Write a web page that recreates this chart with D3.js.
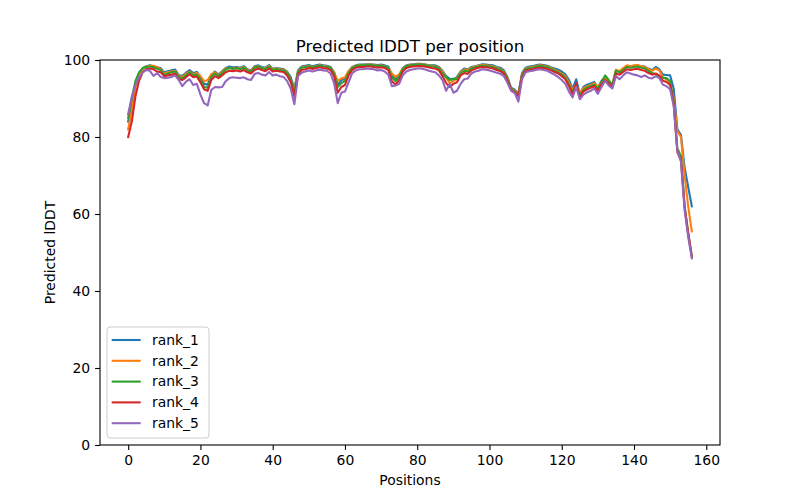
<!DOCTYPE html>
<html lang="en">
<head>
<meta charset="UTF-8">
<title>Predicted lDDT per position</title>
<style>
  body { margin: 0; background: #fff; }
  svg text { font-family: "DejaVu Sans", sans-serif; fill: #000; }
</style>
</head>
<body>
<div id="chart"></div>
<script src="https://cdnjs.cloudflare.com/ajax/libs/d3/7.8.5/d3.min.js"></script>
<script>
// values, positions 0..156
const rank_1 = [
  84, 89, 94, 96.5, 97.8, 98.4, 98.6, 98.4, 98.1, 97.9,
  96.8, 97.1, 97.3, 97.5, 96.0, 95.9, 96.7, 97.4, 96.6, 96.9,
  95.6, 93.8, 93.6, 96.0, 97.0, 96.2, 97.1, 97.9, 98.3, 98.1,
  98.2, 98.0, 98.4, 97.6, 97.3, 98.4, 98.6, 98.2, 98.0, 98.7,
  97.7, 97.9, 97.8, 97.6, 97.0, 95.5, 92.5, 97.3, 98.3, 98.5,
  98.7, 98.4, 98.6, 98.8, 98.6, 98.5, 98.2, 96.8, 93.5, 94.8,
  95.0, 97.0, 98.2, 98.6, 98.8, 98.8, 98.9, 98.9, 98.8, 98.7,
  98.8, 98.6, 98.3, 96.0, 95.1, 96.0, 97.9, 98.6, 98.8, 98.9,
  99.0, 99.0, 98.9, 98.7, 98.6, 98.6, 98.2, 97.2, 95.8, 95.1,
  94.8, 95.6, 97.0, 97.8, 97.5, 98.2, 98.4, 98.6, 98.9, 98.8,
  98.7, 98.6, 98.2, 98.0, 97.3, 95.5, 92.8, 92.3, 91.2, 96.6,
  98.0, 98.3, 98.4, 98.7, 98.8, 98.7, 98.5, 98.1, 97.8, 97.5,
  97.0, 96.3, 94.8, 92.5, 95.0, 91.2, 93.0, 93.6, 93.9, 94.3,
  92.8, 94.6, 95.5, 94.6, 93.4, 97.3, 97.0, 97.6, 98.4, 98.2,
  98.5, 98.6, 98.3, 98.3, 97.7, 97.4, 98.2, 97.6, 96.2, 96.1,
  96.0, 92.5, 82.0, 80.5, 72.0, 67.0, 62.0
];
const rank_2 = [
  82, 87, 93, 96.3, 97.6, 98.3, 98.5, 98.5, 98.2, 97.6,
  96.5, 96.8, 97.0, 97.2, 95.8, 95.6, 96.4, 97.0, 96.3, 96.6,
  95.8, 94.5, 94.8, 96.3, 96.8, 96.0, 97.0, 97.7, 98.0, 97.8,
  98.0, 97.8, 98.2, 97.4, 97.2, 98.2, 98.4, 98.0, 97.8, 98.5,
  97.6, 97.8, 97.6, 97.5, 96.8, 95.0, 92.0, 97.0, 98.1, 98.3,
  98.5, 98.2, 98.4, 98.6, 98.4, 98.3, 98.0, 96.8, 94.6, 95.2,
  95.5, 97.2, 98.0, 98.5, 98.7, 98.7, 98.8, 98.8, 98.7, 98.5,
  98.6, 98.4, 98.0, 96.5, 95.6, 96.3, 97.8, 98.5, 98.7, 98.8,
  98.9, 98.9, 98.8, 98.6, 98.4, 98.4, 98.0, 97.0, 95.5, 94.0,
  94.5, 95.2, 96.8, 97.5, 97.3, 98.0, 98.3, 98.5, 98.7, 98.6,
  98.5, 98.3, 98.0, 97.7, 97.0, 95.2, 92.5, 92.0, 91.0, 96.3,
  97.8, 98.1, 98.2, 98.5, 98.6, 98.5, 98.3, 97.9, 97.5, 97.0,
  96.5, 95.8, 94.0, 92.3, 93.5, 91.5, 92.6, 93.2, 93.5, 94.0,
  93.0, 94.3, 95.4, 94.4, 93.6, 97.5, 97.1, 97.9, 98.6, 98.4,
  98.6, 98.7, 98.4, 98.2, 97.6, 97.2, 97.8, 97.3, 95.5, 95.0,
  94.0, 90.0, 81.5, 80.0, 70.0, 62.0, 55.5
];
const rank_3 = [
  85, 90, 94.5, 96.8, 97.9, 98.2, 98.3, 98.1, 97.8, 97.4,
  96.2, 96.5, 96.8, 97.0, 95.5, 95.2, 96.0, 96.8, 96.0, 96.2,
  95.0, 93.0, 92.8, 95.6, 96.5, 95.8, 96.6, 97.5, 97.9, 97.7,
  97.9, 97.6, 98.0, 97.2, 97.0, 98.0, 98.3, 97.9, 97.6, 98.3,
  97.4, 97.6, 97.4, 97.3, 96.6, 95.0, 91.5, 96.8, 98.0, 98.2,
  98.4, 98.1, 98.3, 98.5, 98.3, 98.2, 97.9, 96.5, 93.0, 94.0,
  94.5, 96.6, 97.9, 98.4, 98.6, 98.6, 98.7, 98.7, 98.6, 98.4,
  98.5, 98.3, 97.9, 95.5, 94.5, 95.6, 97.6, 98.4, 98.6, 98.7,
  98.8, 98.8, 98.7, 98.5, 98.3, 98.3, 97.8, 96.5, 95.5, 94.8,
  95.2, 95.0, 96.5, 97.2, 97.0, 97.8, 98.1, 98.3, 98.5, 98.4,
  98.3, 98.1, 97.8, 97.5, 96.8, 95.0, 92.4, 91.8, 90.8, 96.0,
  97.6, 97.9, 98.0, 98.3, 98.4, 98.3, 98.1, 97.7, 97.2, 96.8,
  96.2, 95.4, 93.5, 91.8, 93.2, 90.8, 92.2, 92.8, 93.2, 93.6,
  92.5, 94.2, 96.0, 94.8, 93.5, 97.2, 96.8, 97.4, 98.2, 98.0,
  98.2, 98.3, 98.0, 97.8, 97.2, 96.6, 96.3, 95.8, 95.4, 95.3,
  94.5, 89.0, 77.0, 75.0, 62.0, 55.0, 49.0
];
const rank_4 = [
  80, 84, 90.5, 94.6, 96.8, 97.6, 97.8, 97.6, 97.0, 96.8,
  95.8, 96.0, 96.2, 96.4, 95.0, 94.8, 95.5, 96.3, 95.5, 95.7,
  94.2, 92.4, 92.0, 94.8, 95.8, 95.3, 96.0, 96.8, 97.2, 97.1,
  97.3, 97.0, 97.4, 96.8, 96.5, 97.4, 97.8, 97.4, 97.1, 97.8,
  97.0, 97.2, 97.0, 96.9, 96.0, 94.2, 90.5, 96.2, 97.4, 97.6,
  97.9, 97.7, 97.9, 98.1, 97.9, 97.8, 97.4, 95.8, 91.5, 93.0,
  93.5, 96.0, 97.4, 98.0, 98.2, 98.2, 98.3, 98.3, 98.2, 98.0,
  98.1, 97.9, 97.4, 94.5, 93.6, 94.8, 97.0, 97.9, 98.2, 98.3,
  98.4, 98.4, 98.3, 98.1, 97.9, 97.8, 97.3, 95.8, 94.0, 93.0,
  93.8, 94.2, 96.0, 96.6, 96.4, 97.3, 97.7, 98.0, 98.2, 98.1,
  98.0, 97.8, 97.4, 97.1, 96.4, 94.6, 92.2, 91.6, 90.6, 95.6,
  97.2, 97.5, 97.6, 97.9, 98.0, 97.9, 97.7, 97.3, 96.9, 96.5,
  95.8, 95.0, 93.2, 91.0, 94.0, 90.2, 91.8, 92.4, 92.8, 93.2,
  92.0, 93.6, 94.8, 94.0, 92.8, 96.5, 96.2, 96.9, 97.6, 97.4,
  97.6, 97.7, 97.4, 97.2, 96.6, 96.2, 96.5, 96.0, 94.6, 94.3,
  93.5, 88.5, 76.0, 74.0, 62.0, 55.0, 49.0
];
const rank_5 = [
  86, 90.4, 93.5, 95.5, 96.8, 97.4, 97.2, 95.9, 96.6, 95.6,
  95.3, 95.4, 95.6, 96.0, 94.8, 93.2, 94.4, 95.0, 93.5, 93.8,
  91.0, 88.8, 88.2, 92.2, 93.0, 92.9, 93.0, 94.5, 95.3, 95.5,
  95.4, 95.3, 95.5, 95.0, 94.8, 96.4, 96.6, 96.2, 96.0, 96.9,
  96.0, 96.2, 95.8, 95.6, 94.5, 92.5, 88.5, 95.8, 96.7, 97.0,
  97.3, 97.0, 97.3, 97.5, 97.3, 97.2, 96.5, 94.0, 88.8, 91.5,
  91.8, 94.2, 96.6, 97.3, 97.6, 97.6, 97.8, 97.7, 97.6, 97.3,
  97.4, 97.0, 96.2, 93.2, 93.4, 93.8, 96.0, 97.0, 97.4, 97.6,
  97.8, 97.8, 97.6, 97.3, 97.0, 96.8, 96.0, 94.8, 92.0, 93.8,
  91.5, 92.0, 93.8, 95.0, 95.2, 96.5, 97.0, 97.2, 97.6, 97.5,
  97.3, 97.0, 96.7, 96.4, 95.8, 94.0, 92.0, 91.4, 89.2, 95.0,
  96.8, 97.1, 97.2, 97.5, 97.6, 97.4, 97.2, 96.7, 96.2, 95.6,
  94.8, 93.8, 91.8, 90.3, 93.0, 89.8, 91.0, 91.6, 92.0, 92.6,
  91.2, 93.0, 94.6, 93.4, 92.6, 95.8, 95.0, 96.0, 96.8, 96.5,
  96.2, 96.0, 95.6, 96.0, 95.4, 95.2, 95.8, 95.3, 93.6, 93.2,
  92.4, 88.0, 76.5, 73.5, 61.0, 54.0, 48.5
];
const seriesNames = ["rank_1", "rank_2", "rank_3", "rank_4", "rank_5"];
const seriesValues = [rank_1, rank_2, rank_3, rank_4, rank_5];
const colors = ["#1f77b4", "#ff7f0e", "#2ca02c", "#d62728", "#9467bd"];
const xTicks = [0, 20, 40, 60, 80, 100, 120, 140, 160];
const yTicks = [0, 20, 40, 60, 80, 100];

const W = 800, H = 500;
const margin = { top: 60, right: 80, bottom: 55, left: 100 };
const width = W - margin.left - margin.right;
const height = H - margin.top - margin.bottom;

const svg = d3.select("#chart").append("svg")
  .attr("width", W).attr("height", H);

const g = svg.append("g")
  .attr("transform", `translate(${margin.left},${margin.top})`);

const n = rank_1.length - 1;
const pad = n * 0.05;
const x = d3.scaleLinear().domain([-pad, n + pad]).range([0, width]);
const y = d3.scaleLinear().domain([0, 100]).range([height, 0]);

const line = d3.line()
  .x((d, i) => x(i))
  .y(d => y(d));

// clip so nothing leaks over the frame
svg.append("defs").append("clipPath").attr("id", "plot")
  .append("rect").attr("width", width).attr("height", height);

g.append("g").attr("clip-path", "url(#plot)")
  .selectAll("path")
  .data(seriesValues)
  .enter()
  .append("path")
  .attr("d", d => line(d))
  .attr("fill", "none")
  .attr("stroke", (d, i) => colors[i])
  .attr("stroke-width", 2.1)
  .attr("stroke-linejoin", "round")
  .attr("stroke-linecap", "square");

const xAxis = g.append("g")
  .attr("transform", `translate(0,${height})`)
  .call(d3.axisBottom(x).tickValues(xTicks).tickSize(4.9).tickPadding(4.9).tickFormat(d3.format("d")));
const yAxis = g.append("g")
  .call(d3.axisLeft(y).tickValues(yTicks).tickSize(4.9).tickPadding(4.9).tickFormat(d3.format("d")));

[xAxis, yAxis].forEach(a => {
  a.select(".domain").remove();
  a.selectAll("line").attr("stroke", "#000").attr("stroke-width", 1.1);
  a.selectAll("text").attr("font-size", 13.9).attr("font-family", "DejaVu Sans, sans-serif");
});

// frame
g.append("rect")
  .attr("width", width).attr("height", height)
  .attr("fill", "none").attr("stroke", "#000").attr("stroke-width", 1.1);

svg.append("text")
  .attr("x", margin.left + width / 2).attr("y", 52)
  .attr("text-anchor", "middle").attr("font-size", 16.7)
  .text("Predicted lDDT per position");

svg.append("text")
  .attr("x", margin.left + width / 2).attr("y", 485)
  .attr("text-anchor", "middle").attr("font-size", 13.9)
  .text("Positions");

svg.append("text")
  .attr("transform", `translate(55,${margin.top + height / 2}) rotate(-90)`)
  .attr("text-anchor", "middle").attr("font-size", 13.9)
  .text("Predicted lDDT");

// legend
const legend = g.append("g").attr("transform", "translate(7,267)");
legend.append("rect")
  .attr("width", 102).attr("height", 111).attr("rx", 3)
  .attr("fill", "#fff").attr("fill-opacity", 0.8)
  .attr("stroke", "#ccc").attr("stroke-width", 1);

const items = legend.selectAll(".item")
  .data(seriesNames)
  .enter().append("g")
  .attr("transform", (d, i) => `translate(0,${13 + i * 20.8})`);
items.append("line")
  .attr("x1", 4.7).attr("x2", 33.7)
  .attr("stroke", (d, i) => colors[i]).attr("stroke-width", 2.1);
items.append("text")
  .attr("x", 45).attr("dy", "0.35em").attr("font-size", 13.9)
  .text(d => d);
</script>
</body>
</html>
